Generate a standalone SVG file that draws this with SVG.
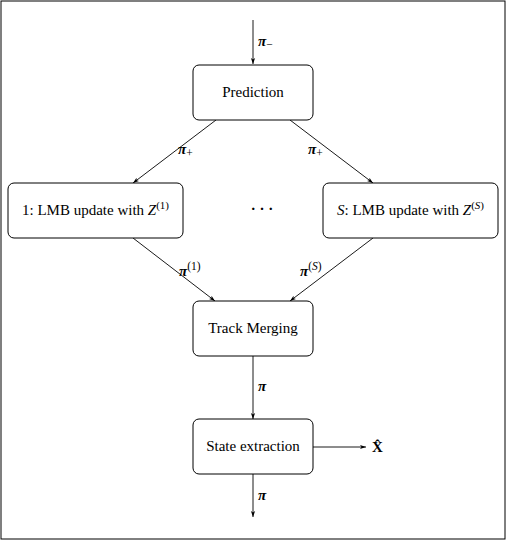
<svg xmlns="http://www.w3.org/2000/svg" width="506" height="540" viewBox="0 0 506 540" font-family="'Liberation Serif','Times New Roman','DejaVu Serif',serif">
<defs>
<marker id="ah" viewBox="0 0 10 10" refX="10" refY="5" markerWidth="6" markerHeight="6" orient="auto" markerUnits="userSpaceOnUse">
<path d="M0,1.5 L10,5 L0,8.5 L2.5,5 Z" fill="#000"/>
</marker>
<style>
.box{fill:#fff;stroke:#000;stroke-width:1}
.t{font-family:'Liberation Serif','Times New Roman','DejaVu Serif',serif;font-size:15px;fill:#000}
.m{font-family:'Liberation Serif','Times New Roman','DejaVu Serif',serif;font-size:15px;font-weight:bold;font-style:italic;fill:#000}
.s{font-size:11.5px;font-weight:normal;font-style:normal}
.si{font-size:11.5px;font-weight:normal;font-style:italic}
.ln{stroke:#000;stroke-width:0.9;fill:none;marker-end:url(#ah)}
</style>
</defs>
<rect x="1" y="1" width="504" height="538" fill="#fff" stroke="#000" stroke-width="1"/>
<g id="connectors">
<line class="ln" x1="253" y1="20" x2="253" y2="64"/>
<line class="ln" x1="216" y1="120" x2="133" y2="183"/>
<line class="ln" x1="290" y1="120" x2="373" y2="183"/>
<line class="ln" x1="133" y1="238" x2="215" y2="301"/>
<line class="ln" x1="373" y1="238" x2="290" y2="301"/>
<line class="ln" x1="253" y1="356" x2="253" y2="419"/>
<line class="ln" x1="313" y1="447" x2="366" y2="447"/>
<line class="ln" x1="253" y1="474" x2="253" y2="517"/>
<text class="m" x="258" y="46">π<tspan class="s" dy="2">−</tspan></text>
<text class="m" x="178" y="154">π<tspan class="s" dy="3">+</tspan></text>
<text class="m" x="308" y="154">π<tspan class="s" dy="3">+</tspan></text>
<text class="m" x="179" y="276">π<tspan class="s" dy="-6">(1)</tspan></text>
<text class="m" x="300" y="276">π<tspan class="s" dy="-6">(</tspan><tspan class="si">S</tspan><tspan class="s">)</tspan></text>
<text class="m" x="258" y="391">π</text>
<text class="m" x="258" y="500">π</text>
<text class="t" x="372" y="452" font-weight="bold">X̂</text>
</g>
<g id="prediction">
<rect class="box" x="193" y="65" width="120" height="55" rx="6"/>
<text class="t" x="253" y="97" text-anchor="middle">Prediction</text>
</g>
<g id="update1">
<rect class="box" x="8" y="183" width="175" height="55" rx="6"/>
<text class="t" x="95.5" y="215" text-anchor="middle">1:  LMB update with <tspan font-style="italic">Z</tspan><tspan font-size="11" dy="-6">(1)</tspan></text>
</g>
<g id="dots">
<text class="t" x="262" y="214" text-anchor="middle" font-weight="bold">·  ·  ·</text>
</g>
<g id="updateS">
<rect class="box" x="323" y="183" width="175" height="55" rx="6"/>
<text class="t" x="410.5" y="215" text-anchor="middle"><tspan font-style="italic">S</tspan>:  LMB update with <tspan font-style="italic">Z</tspan><tspan font-size="11" dy="-6">(<tspan font-style="italic">S</tspan>)</tspan></text>
</g>
<g id="merging">
<rect class="box" x="193" y="301" width="120" height="55" rx="6"/>
<text class="t" x="253" y="333" text-anchor="middle">Track Merging</text>
</g>
<g id="extraction">
<rect class="box" x="193" y="419" width="120" height="55" rx="6"/>
<text class="t" x="253" y="451" text-anchor="middle">State extraction</text>
</g>
</svg>
